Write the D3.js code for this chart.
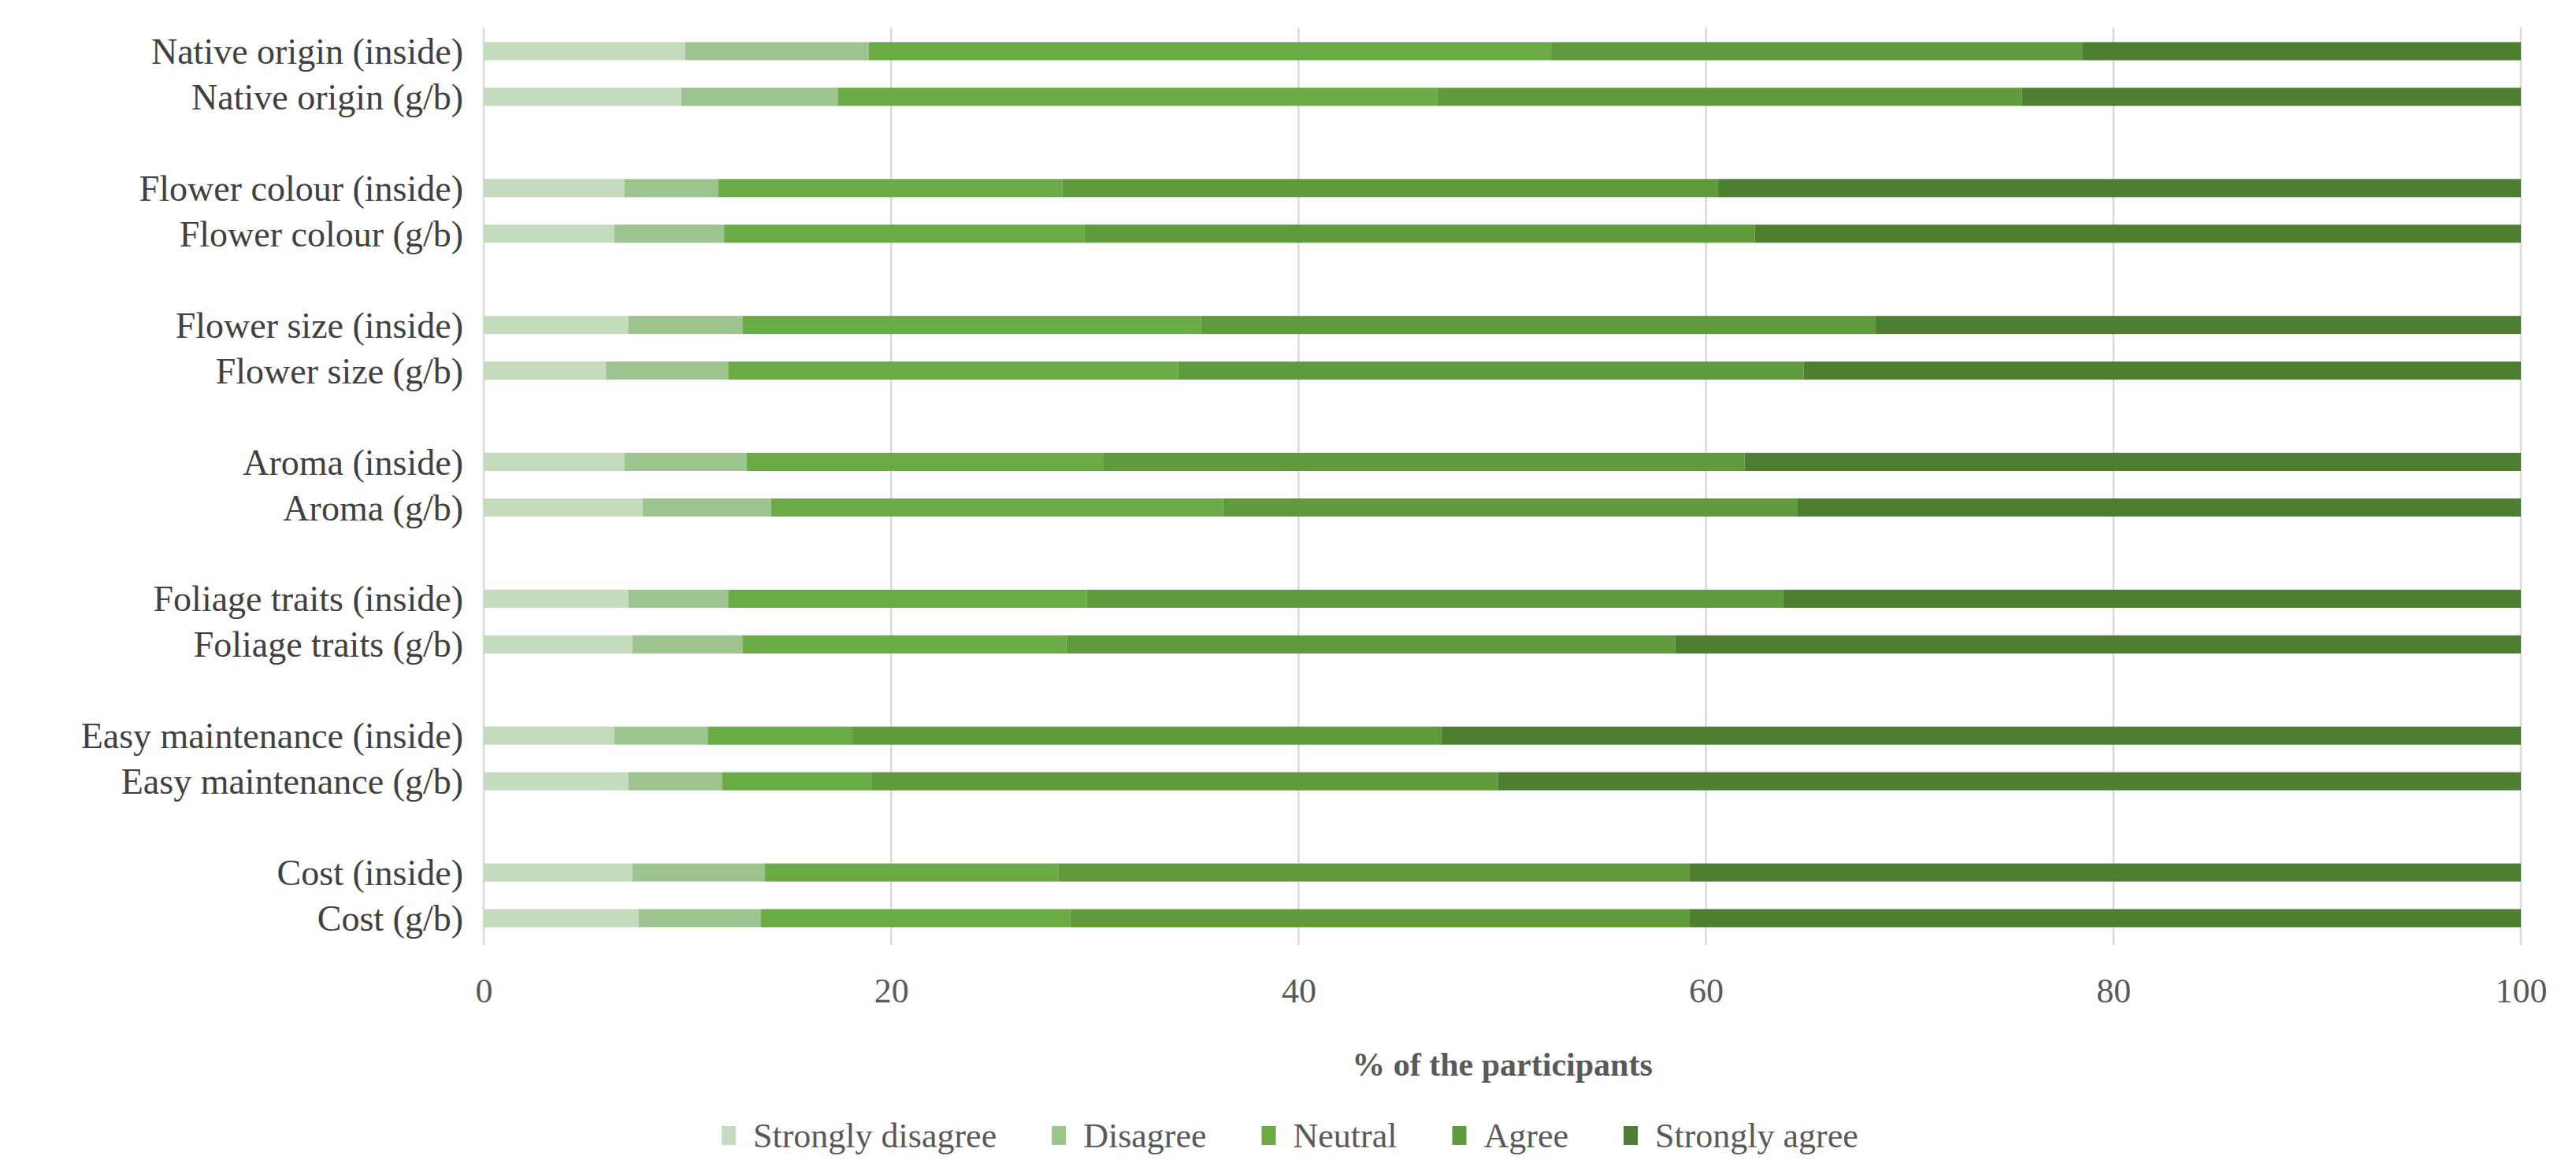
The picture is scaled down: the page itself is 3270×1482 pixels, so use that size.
<!DOCTYPE html>
<html><head><meta charset="utf-8">
<script src="https://cdn.jsdelivr.net/npm/d3@7"></script>
<style>body{margin:0;background:#fff}</style></head>
<body><svg id="c" width="3270" height="1482"></svg>
<script>
const categories = ["Native origin (inside)","Native origin (g/b)","","Flower colour (inside)","Flower colour (g/b)","","Flower size (inside)","Flower size (g/b)","","Aroma (inside)","Aroma (g/b)","","Foliage traits (inside)","Foliage traits (g/b)","","Easy maintenance (inside)","Easy maintenance (g/b)","","Cost (inside)","Cost (g/b)"];
const seriesNames = ["Strongly disagree","Disagree","Neutral","Agree","Strongly agree"];
const stronglyDisagree = [9.9,9.7,null,6.9,6.4,null,7.1,6.0,null,6.9,7.8,null,7.1,7.3,null,6.4,7.1,null,7.3,7.6];
const disagree =         [9.0,7.7,null,4.6,5.4,null,5.6,6.0,null,6.0,6.3,null,4.9,5.4,null,4.6,4.6,null,6.5,6.0];
const neutral =          [33.5,29.4,null,16.9,17.7,null,22.5,22.1,null,17.5,22.2,null,17.6,15.9,null,7.1,7.3,null,14.4,15.2];
const agree =            [26.1,28.7,null,32.2,32.9,null,33.1,30.7,null,31.5,28.2,null,34.2,29.9,null,28.9,30.8,null,31.0,30.4];
const stronglyAgree =    [21.5,24.5,null,39.4,37.6,null,31.7,35.2,null,38.1,35.5,null,36.2,41.5,null,53.0,50.2,null,40.8,40.8];
const xTicks = [0,20,40,60,80,100];
const colors = ["#c5dbbd","#9dc38f","#6aab45","#5f9b3c","#4e7e2f"];

const svg = d3.select("#c");
const font = "'Liberation Serif', serif";
const x = d3.scaleLinear().domain([0,100]).range([614,3200]);
const y = d3.scalePoint().domain(d3.range(categories.length)).range([65,1166]);
const bh = 23;

svg.append("g").selectAll("line").data(xTicks).join("line")
  .attr("x1",d=>x(d)).attr("x2",d=>x(d)).attr("y1",35).attr("y2",1200)
  .attr("stroke","#d9d9d9").attr("stroke-width",2.5);

const all = [stronglyDisagree,disagree,neutral,agree,stronglyAgree];
const rows = categories.map((c,i)=>({c,i,v:all.map(a=>a[i])})).filter(r=>r.c!=="");
rows.forEach(r=>{
  let acc=0;
  r.v.forEach((v,k)=>{
    svg.append("rect").attr("x",x(acc)).attr("width",x(acc+v)-x(acc))
      .attr("y",y(r.i)-bh/2).attr("height",bh).attr("fill",colors[k]);
    acc+=v;
  });
  svg.append("text").attr("x",588).attr("y",y(r.i)).attr("dy","0.35em")
    .attr("text-anchor","end").attr("font-family",font).attr("font-size",46).attr("fill","#404040").text(r.c);
});

const ax = svg.append("g").attr("transform","translate(0,1200)")
  .call(d3.axisBottom(x).tickValues(xTicks).tickSize(0).tickPadding(42));
ax.select(".domain").remove();
ax.selectAll("text").attr("font-family",font).attr("font-size",44).attr("fill","#595959");

svg.append("text").attr("x",(x(0)+x(100))/2).attr("y",1366).attr("text-anchor","middle")
  .attr("font-family",font).attr("font-size",42).attr("font-weight","bold").attr("fill","#595959").text("% of the participants");

const lg = svg.append("g");
let lx = 916;
seriesNames.forEach((n,k)=>{
  lg.append("rect").attr("x",lx).attr("y",1430).attr("width",18).attr("height",24).attr("fill",colors[k]);
  const t = lg.append("text").attr("x",lx+40).attr("y",1442).attr("dy","0.35em")
    .attr("font-family",font).attr("font-size",44).attr("fill","#595959").text(n);
  lx += 40 + t.node().getComputedTextLength() + 70;
});
</script></body></html>
